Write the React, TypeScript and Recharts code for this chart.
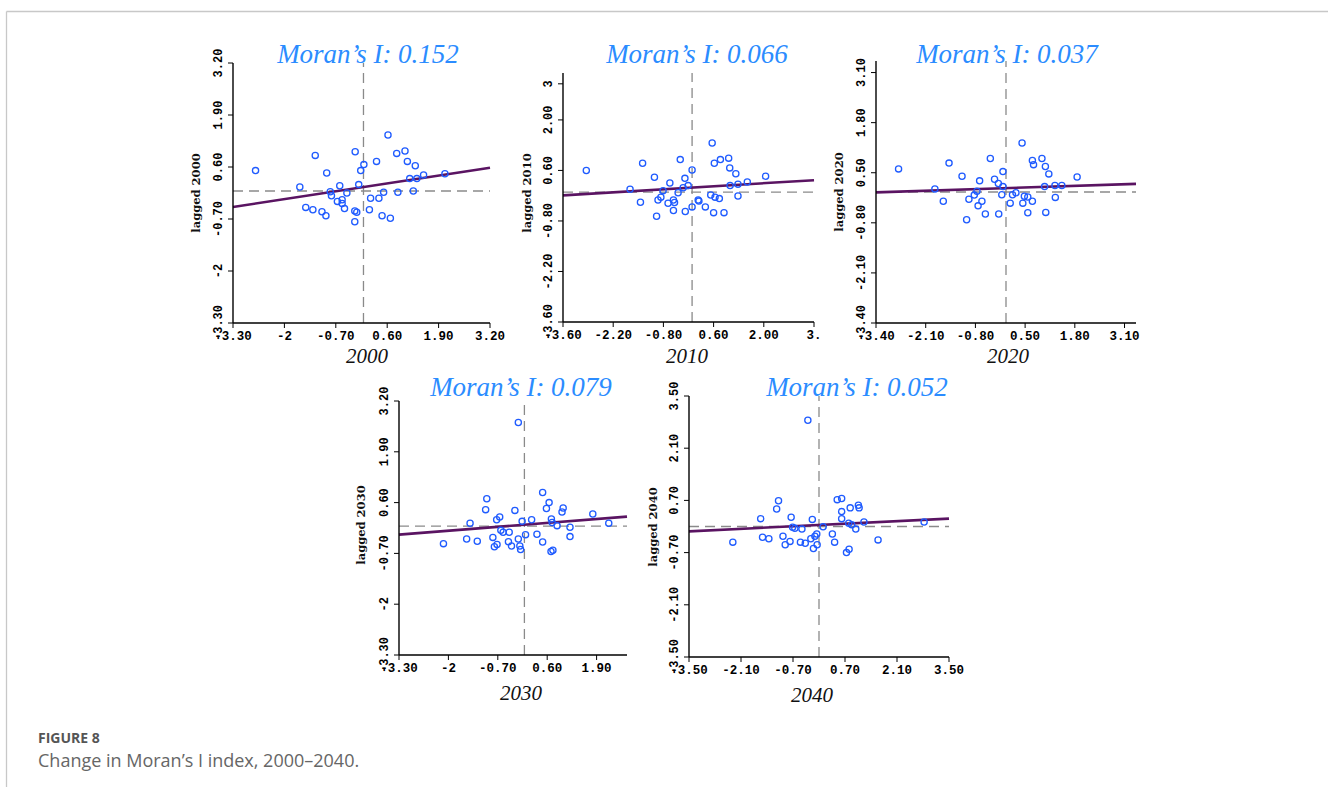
import React from 'react'
import { ScatterChart, Scatter, XAxis, YAxis, ReferenceLine } from 'recharts'

type Pt = [number, number]

// standardized value (x) vs spatial lag (y)
const pts2000: Pt[] = [
  [-2.73, 0.51], [-1.61, 0.10], [-1.22, 0.89], [-0.93, 0.45], [-1.46, -0.41], [-1.28, -0.47],
  [-1.05, -0.52], [-0.95, -0.62], [-0.84, -0.02], [-0.81, -0.12], [-0.60, 0.13], [-0.66, -0.26],
  [-0.54, -0.22], [-0.54, -0.31], [-0.48, -0.44], [-0.42, -0.05], [-0.21, 0.98], [-0.22, -0.50],
  [-0.17, -0.53], [-0.22, -0.77], [-0.12, 0.16], [-0.07, 0.51], [0.01, 0.66], [0.15, -0.47],
  [0.18, -0.18], [0.33, 0.74], [0.39, -0.18], [0.51, -0.03], [0.47, -0.62], [0.62, 1.40],
  [0.68, -0.68], [0.84, 0.94], [0.87, -0.03], [1.05, 1.00], [1.11, 0.74], [1.31, 0.63],
  [1.17, 0.31], [1.35, 0.31], [1.26, 0.00], [1.52, 0.40], [2.06, 0.43],
]
const pts2010: Pt[] = [
  [-2.95, 0.60], [-1.73, 0.08], [-1.44, -0.28], [-1.38, 0.80], [-1.05, 0.41], [-0.99, -0.67],
  [-0.95, -0.22], [-0.87, -0.14], [-0.81, 0.04], [-0.67, -0.31], [-0.62, 0.25], [-0.52, -0.22],
  [-0.49, -0.29], [-0.52, -0.51], [-0.39, -0.02], [-0.33, 0.90], [-0.25, 0.12], [-0.20, 0.38],
  [-0.19, -0.54], [-0.11, 0.18], [0.00, 0.61], [0.00, -0.41], [0.17, -0.22], [0.19, -0.25],
  [0.37, -0.41], [0.52, -0.08], [0.56, 1.36], [0.60, -0.57], [0.62, 0.80], [0.64, -0.14],
  [0.76, -0.18], [0.79, 0.90], [0.89, -0.57], [1.02, 0.94], [1.05, 0.67], [1.06, 0.18],
  [1.22, 0.51], [1.28, 0.22], [1.28, -0.11], [1.54, 0.28], [2.05, 0.44],
]
const pts2020: Pt[] = [
  [-2.81, 0.60], [-1.86, 0.08], [-1.64, -0.24], [-1.49, 0.75], [-1.15, 0.41], [-1.03, -0.72],
  [-0.97, -0.19], [-0.83, -0.08], [-0.76, 0.02], [-0.73, -0.36], [-0.69, 0.29], [-0.63, -0.24],
  [-0.54, -0.57], [-0.41, 0.87], [-0.30, 0.33], [-0.20, 0.22], [-0.19, -0.57], [-0.11, -0.07],
  [-0.08, 0.14], [-0.08, 0.53], [0.11, -0.29], [0.17, -0.07], [0.26, -0.02], [0.42, 1.27],
  [0.44, -0.29], [0.48, -0.11], [0.57, -0.13], [0.57, -0.54], [0.69, -0.24], [0.69, 0.82],
  [0.72, 0.71], [0.94, 0.87], [1.01, 0.14], [1.03, 0.66], [1.04, -0.53], [1.12, 0.47],
  [1.28, 0.17], [1.29, -0.14], [1.46, 0.17], [1.86, 0.39],
]
const pts2030: Pt[] = [
  [-2.13, -0.45], [-1.52, -0.33], [-1.43, 0.07], [-1.24, -0.39], [-1.02, 0.42], [-0.99, 0.70],
  [-0.83, -0.29], [-0.79, -0.53], [-0.72, -0.47], [-0.73, 0.16], [-0.65, 0.23], [-0.62, -0.11],
  [-0.56, -0.16], [-0.42, -0.40], [-0.40, -0.16], [-0.34, -0.51], [-0.25, 0.40], [-0.16, -0.33],
  [-0.16, 2.65], [-0.12, -0.51], [-0.10, -0.60], [-0.06, 0.12], [0.03, -0.22], [0.19, 0.16],
  [0.33, -0.21], [0.48, 0.86], [0.48, -0.41], [0.58, 0.45], [0.65, 0.60], [0.71, 0.18],
  [0.73, 0.09], [0.70, -0.65], [0.75, -0.62], [0.86, 0.01], [0.99, 0.36], [1.02, 0.46],
  [1.20, -0.03], [1.20, -0.27], [1.80, 0.31], [2.22, 0.07],
]
const pts2040: Pt[] = [
  [-2.32, -0.42], [-1.57, 0.21], [-1.52, -0.29], [-1.35, -0.33], [-1.14, 0.47], [-1.09, 0.69],
  [-0.97, -0.26], [-0.91, -0.49], [-0.78, -0.40], [-0.75, 0.25], [-0.71, -0.02], [-0.65, -0.05],
  [-0.50, -0.42], [-0.46, -0.07], [-0.37, -0.45], [-0.30, 2.85], [-0.22, -0.33], [-0.18, 0.19],
  [-0.15, -0.59], [-0.11, -0.26], [-0.06, -0.20], [-0.05, -0.49], [0.11, -0.01], [0.36, -0.20],
  [0.42, -0.42], [0.49, 0.72], [0.61, 0.75], [0.61, 0.40], [0.61, 0.21], [0.74, -0.70],
  [0.81, -0.61], [0.80, 0.09], [0.84, 0.50], [0.88, 0.05], [0.99, -0.07], [1.06, 0.57],
  [1.08, 0.50], [1.21, 0.12], [1.59, -0.36], [2.83, 0.12],
]

// fitted line end points (slope = Moran's I)
const fit2000: Pt[] = [[-3.3, -0.40], [3.2, 0.58]]
const fit2010: Pt[] = [[-3.6, -0.09], [3.4, 0.33]]
const fit2020: Pt[] = [[-3.4, -0.01], [3.4, 0.21]]
const fit2030: Pt[] = [[-3.3, -0.22], [2.7, 0.24]]
const fit2040: Pt[] = [[-3.5, -0.13], [3.5, 0.21]]

const ticks13 = [-3.3, -2, -0.7, 0.6, 1.9, 3.2]
const labels13 = ['-3.30', '-2', '-0.70', '0.60', '1.90', '3.20']
const ticks2010X = [-3.6, -2.2, -0.8, 0.6, 2.0, 3.4]
const labels2010X = ['-3.60', '-2.20', '-0.80', '0.60', '2.00', '3.']
const ticks2010Y = [-3.6, -2.2, -0.8, 0.6, 2.0, 3]
const labels2010Y = ['-3.60', '-2.20', '-0.80', '0.60', '2.00', '3']
const ticks2020 = [-3.4, -2.1, -0.8, 0.5, 1.8, 3.1]
const labels2020 = ['-3.40', '-2.10', '-0.80', '0.50', '1.80', '3.10']
const ticks2030X = [-3.3, -2, -0.7, 0.6, 1.9]
const labels2030X = ['-3.30', '-2', '-0.70', '0.60', '1.90']
const ticks2040 = [-3.5, -2.1, -0.7, 0.7, 2.1, 3.5]
const labels2040 = ['-3.50', '-2.10', '-0.70', '0.70', '2.10', '3.50']

const morans = ['0.152', '0.066', '0.037', '0.079', '0.052']
const years = ['2000', '2010', '2020', '2030', '2040']

const TICK_FONT = '"Liberation Mono", "DejaVu Sans Mono", monospace'
const SERIF = '"Liberation Serif", "DejaVu Serif", serif'

interface PanelCfg {
  pts: Pt[]
  fit: Pt[]
  xDomain: [number, number]
  yDomain: [number, number]
  xTicks: number[]
  xLabels: string[]
  yTicks: number[]
  yLabels: string[]
  box: { left: number; top: number; w: number; h: number }
  title: { x: number; y: number }
  xTitle: { x: number; y: number }
  yTitle: { x: number; y: number }
}

const panels: PanelCfg[] = [
  {
    pts: pts2000, fit: fit2000, xDomain: [-3.3, 3.2], yDomain: [-3.3, 3.2],
    xTicks: ticks13, xLabels: labels13, yTicks: ticks13, yLabels: labels13,
    box: { left: 233, top: 63, w: 257, h: 260 },
    title: { x: 368, y: 63 }, xTitle: { x: 367, y: 363 }, yTitle: { x: 200, y: 193 },
  },
  {
    pts: pts2010, fit: fit2010, xDomain: [-3.6, 3.4], yDomain: [-3.6, 3.3],
    xTicks: ticks2010X, xLabels: labels2010X, yTicks: ticks2010Y, yLabels: labels2010Y,
    box: { left: 563, top: 73, w: 251, h: 249 },
    title: { x: 697, y: 63 }, xTitle: { x: 687, y: 363 }, yTitle: { x: 531, y: 193 },
  },
  {
    pts: pts2020, fit: fit2020, xDomain: [-3.4, 3.4], yDomain: [-3.4, 3.4],
    xTicks: ticks2020, xLabels: labels2020, yTicks: ticks2020, yLabels: labels2020,
    box: { left: 876, top: 61, w: 260, h: 262 },
    title: { x: 1007, y: 63 }, xTitle: { x: 1008, y: 363 }, yTitle: { x: 843, y: 192 },
  },
  {
    pts: pts2030, fit: fit2030, xDomain: [-3.3, 2.7], yDomain: [-3.3, 3.2],
    xTicks: ticks2030X, xLabels: labels2030X, yTicks: ticks13, yLabels: labels13,
    box: { left: 399, top: 401, w: 228, h: 254 },
    title: { x: 521, y: 396 }, xTitle: { x: 521, y: 700 }, yTitle: { x: 365, y: 525 },
  },
  {
    pts: pts2040, fit: fit2040, xDomain: [-3.5, 3.5], yDomain: [-3.5, 3.5],
    xTicks: ticks2040, xLabels: labels2040, yTicks: ticks2040, yLabels: labels2040,
    box: { left: 689, top: 396, w: 260, h: 261 },
    title: { x: 857, y: 396 }, xTitle: { x: 812, y: 702 }, yTitle: { x: 657, y: 527 },
  },
]

const pick = (ticks: number[], labels: string[]) => (v: number) => {
  const i = ticks.indexOf(v)
  return i >= 0 ? labels[i] : String(v)
}

function YTick(props: any) {
  const { x, y, payload, fmt } = props
  return (
    <text
      x={x} y={y}
      transform={`rotate(-90 ${x} ${y})`}
      textAnchor="middle"
      fontSize={12}
      fontWeight="bold"
      fontFamily={TICK_FONT}
      fill="#000"
    >
      {fmt(payload.value)}
    </text>
  )
}

const Ring = (p: any) => (
  <circle cx={p.cx} cy={p.cy} r={3.1} fill="none" stroke="#1f5bff" strokeWidth={1.3} />
)

function Panel({ cfg }: { cfg: PanelCfg }) {
  const { box } = cfg
  const ML = 40, MT = 20, MR = 30, XH = 30
  const data = cfg.pts.map(([x, y]) => ({ x, y }))
  const axisLine = { stroke: '#000', strokeWidth: 1.4 }

  return (
    <div style={{ position: 'absolute', left: box.left - ML, top: box.top - MT }}>
      <ScatterChart
        width={ML + box.w + MR}
        height={MT + box.h + XH}
        margin={{ top: MT, right: MR, bottom: 0, left: 0 }}
      >
        <XAxis
          type="number" dataKey="x" domain={cfg.xDomain} ticks={cfg.xTicks}
          interval={0} height={XH} tickSize={5} tickMargin={3}
          allowDataOverflow axisLine={axisLine} tickLine={{ stroke: '#000' }}
          tickFormatter={pick(cfg.xTicks, cfg.xLabels)}
          tick={{ fill: '#000', fontSize: 12.5, fontWeight: 'bold', fontFamily: TICK_FONT }}
        />
        <YAxis
          type="number" dataKey="y" domain={cfg.yDomain} ticks={cfg.yTicks}
          interval={0} width={ML} tickSize={5} tickMargin={6}
          allowDataOverflow axisLine={axisLine} tickLine={{ stroke: '#000' }}
          tick={<YTick fmt={pick(cfg.yTicks, cfg.yLabels)} />}
        />
        <ReferenceLine x={0} stroke="#8a8a8a" strokeDasharray="10 6" strokeWidth={1.3} />
        <ReferenceLine y={0} stroke="#8a8a8a" strokeDasharray="10 6" strokeWidth={1.3} />
        <ReferenceLine
          segment={cfg.fit.map(([x, y]) => ({ x, y }))}
          stroke="#5a1462" strokeWidth={2.6}
        />
        <Scatter data={data} shape={Ring} isAnimationActive={false} />
      </ScatterChart>
    </div>
  )
}

export default function App() {
  return (
    <div style={{ position: 'absolute', left: 0, top: 0, width: 1328, height: 787, background: '#fff' }}>
      <svg width={1328} height={787} style={{ position: 'absolute', left: 0, top: 0 }}>
        <line x1={6.5} y1={11.5} x2={1328} y2={11.5} stroke="#c8c8c8" strokeWidth={1.3} />
        <line x1={6.5} y1={11.5} x2={6.5} y2={787} stroke="#c8c8c8" strokeWidth={1.3} />
        {panels.map((p, i) => (
          <g key={years[i]}>
            <text x={p.title.x} y={p.title.y} textAnchor="middle" fontFamily={SERIF}
              fontStyle="italic" fontSize={27} fill="#2b8cff">
              {`Moran’s I: ${morans[i]}`}
            </text>
            <text x={p.xTitle.x} y={p.xTitle.y} textAnchor="middle" fontFamily={SERIF}
              fontStyle="italic" fontSize={21} fill="#111">
              {years[i]}
            </text>
            <text x={-p.yTitle.y} y={p.yTitle.x} transform="rotate(-90)" textAnchor="middle"
              fontFamily='"DejaVu Serif", serif' fontWeight="bold" fontSize={11.5} fill="#111">
              {`lagged ${years[i]}`}
            </text>
          </g>
        ))}
        <text x={38} y={743} fontFamily='"Open Sans", sans-serif' fontWeight="bold"
          fontSize={14} fill="#555">FIGURE 8</text>
        <text x={38} y={767} fontFamily='"Open Sans", sans-serif' fontSize={18} fill="#666">
          Change in Moran’s I index, 2000–2040.
        </text>
      </svg>
      {panels.map((p, i) => <Panel key={years[i]} cfg={p} />)}
    </div>
  )
}
